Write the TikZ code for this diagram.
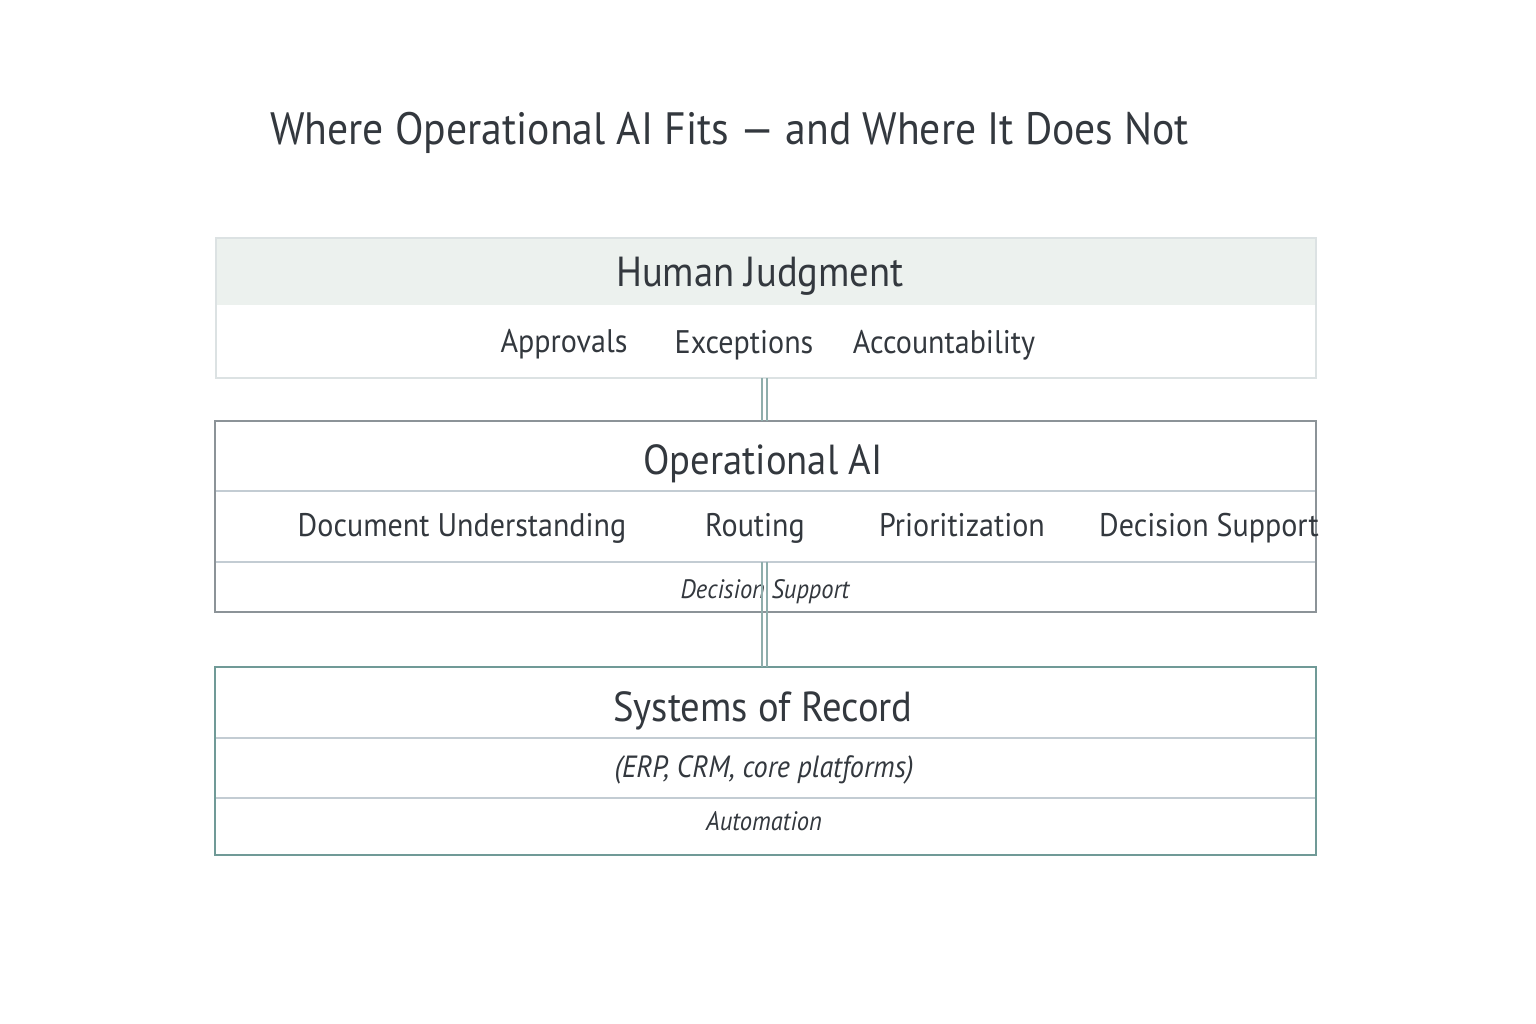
\documentclass[tikz,border=0pt]{standalone}
\usepackage{fontspec}
\setmainfont{PT Sans}[FakeStretch=0.92]
\begin{document}
\begin{tikzpicture}[x=0.75pt,y=-0.75pt]
\definecolor{ink}{HTML}{33383E}
\definecolor{bandfill}{HTML}{ECF1EE}
\definecolor{lightedge}{HTML}{DCE2E3}
\definecolor{grayedge}{HTML}{8C9398}
\definecolor{divider}{HTML}{C3CCD3}
\definecolor{tealedge}{HTML}{709A97}
\definecolor{linkcol}{HTML}{8FAEAC}
\tikzset{
  txt/.style={text=ink, inner sep=0pt, anchor=base},
  titletxt/.style={txt, font=\fontsize{34}{40}\selectfont},
  headtxt/.style={txt, font=\fontsize{31.5}{36}\selectfont},
  itemtxt/.style={txt, font=\fontsize{24.5}{28}\selectfont},
  ittxt/.style={txt, font=\itshape\fontsize{20}{23}\selectfont},
  ittxtb/.style={txt, font=\itshape\fontsize{23}{26}\selectfont},
  divline/.style={draw=divider, line width=0.9pt},
  link/.style={draw=linkcol, line width=0.9pt},
}
\useasboundingbox (0,0) rectangle (1536,1024);
\fill[white] (0,0) rectangle (1536,1024);

% title
\node[titletxt, anchor=base west] (title) at (270,145) {Where Operational AI Fits — and Where It Does Not};

% box 1 Human Judgment
\fill[bandfill] (216,238) rectangle (1316,305);
\draw[draw=lightedge, line width=0.9pt] (216,238) rectangle (1316,378);
\node[headtxt] (hj) at (760,286) {Human Judgment};
\node[itemtxt] (appr) at (564,352) {Approvals};
\node[itemtxt] (exc) at (744,353) {Exceptions};
\node[itemtxt] (acc) at (944,353) {Accountability};

% box 2 Operational AI
\draw[divline] (215,491) -- (1316,491);
\draw[divline] (215,562) -- (1316,562);
\draw[draw=grayedge, line width=0.9pt] (215,421) rectangle (1316,612);
\node[headtxt] (oai) at (763,474) {Operational AI};
\node[itemtxt] (doc) at (462,536) {Document Understanding};
\node[itemtxt] (rout) at (755,536) {Routing};
\node[itemtxt] (prio) at (962,536) {Prioritization};
\node[itemtxt] (dsup) at (1209,536) {Decision Support};
\node[ittxt] (dsupi) at (765,598) {Decision Support};

% box 3 Systems of Record
\draw[divline] (215,738) -- (1316,738);
\draw[divline] (215,798) -- (1316,798);
\draw[draw=tealedge, line width=0.9pt] (215,667) rectangle (1316,855);
\node[headtxt] (sor) at (763,721) {Systems of Record};
\node[ittxtb] (erp) at (764,777) {(ERP, CRM, core platforms)};
\node[ittxt] (auto) at (764,830) {Automation};

% connectors (double thin lines)
\coordinate (c1a) at (762,378);
\coordinate (c1b) at (762,421);
\coordinate (c2a) at (767,378);
\coordinate (c2b) at (767,421);
\coordinate (c3a) at (762,562);
\coordinate (c3b) at (762,667);
\coordinate (c4a) at (767,562);
\coordinate (c4b) at (767,667);
\draw[link] (c1a) -- (c1b);
\draw[link] (c2a) -- (c2b);
\draw[link] (c3a) -- (c3b);
\draw[link] (c4a) -- (c4b);
\end{tikzpicture}
\end{document}
